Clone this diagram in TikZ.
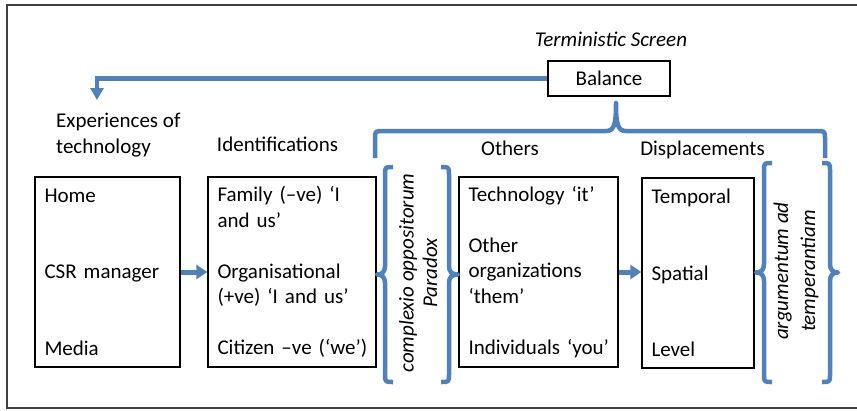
\documentclass[tikz,border=0pt]{standalone}
\usepackage{fontspec}
\setmainfont{Carlito}
\usetikzlibrary{arrows.meta}
\definecolor{schemeblue}{RGB}{79,129,189}

\begin{document}
\begin{tikzpicture}[x=1pt, y=-1pt,
    font=\fontsize{21}{25.5}\selectfont,
    box/.style={draw, line width=1.4pt, minimum height=190pt, inner xsep=9.5pt, align=left},
    label/.style={inner sep=0pt},
    slanted/.style={inner sep=0pt, font=\fontsize{21}{27}\selectfont\itshape},
    blueline/.style={draw=schemeblue, line width=4.5pt, line join=round},
    bluearrow/.style={draw=schemeblue, line width=5pt, -{Triangle[length=11pt,width=14pt]}}]

    % page and outer frame (open on the right)
    \useasboundingbox (0,0) rectangle (857,410);
    \draw[line width=1.5pt, black!75] (857,5) -- (7,5) -- (7,408) -- (857,408);

    % Balance box with its heading
    \node[slanted, anchor=base] (screen) at (611,46) {Terministic Screen};
    \node[draw, line width=1.4pt, minimum width=122pt, minimum height=35pt, inner sep=0pt] (balance) at (609,78.5) {Balance};

    % Column headings
    \node[label, align=left, anchor=west] (experlbl) at (56,135) {Experiences of\\technology};
    \node[label, anchor=base] (identlbl) at (277.5,151) {Identifications};
    \node[label, anchor=base] (otherslbl) at (510,155) {Others};
    \node[label, anchor=base] (displlbl) at (702.5,155) {Displacements};

    % The four boxes
    \node[box, text width=126pt] (places) at (107.5,272) {Home\\[51pt]CSR manager\\[51pt]Media};
    \node[box, text width=149pt] (ident) at (292,272) {Family (–ve) ‘I\\and us’\\[25.5pt]Organisational\\\mbox{(+ve) ‘I and us’}\\[25.5pt]\mbox{Citizen –ve (‘we’)}};
    \node[box, text width=140pt] (others) at (538.5,272) {Technology ‘it’\\[25.5pt]Other\\organizations\\‘them’\\[25.5pt]\mbox{Individuals ‘you’}};
    \node[box, text width=93pt] (displ) at (698,273) {Temporal\\[51pt]Spatial\\[51pt]Level};

    % Rotated labels between the braces
    \node[slanted, rotate=90] (complexio) at (408,273) {complexio oppositorum};
    \node[slanted, rotate=90] (paradox) at (430,273) {Paradox};
    \node[slanted, rotate=90, align=center] (argument) at (796,271) {argumentum ad\\temperantiam};

    % Arrows
    \coordinate (exptip) at (97,100);
    \draw[bluearrow, line width=4.5pt, -{Triangle[length=12pt,width=13pt]}] (balance.west) -| (exptip);
    \draw[bluearrow] (places.east) -- (ident.west);
    \draw[bluearrow] (others.east) -- (others.east -| displ.west);

    % Top brace under Balance
    \draw[blueline] (375,158) -- (375,139) .. controls (375,131) .. (383,131) -- (606,131)
        .. controls (614,131) and (616,125) .. (616,103)
        .. controls (616,125) and (618,131) .. (626,131) -- (817,131)
        .. controls (825,131) .. (825,139) -- (825,158);

    % Braces round complexio oppositorum / Paradox
    \draw[blueline] (393,167) .. controls (385,167) .. (385,175) -- (385,266)
        .. controls (385,272) and (382,274.5) .. (377,274.5)
        .. controls (382,274.5) and (385,277) .. (385,283) -- (385,374)
        .. controls (385,382) .. (393,382);
    \draw[blueline] (441,167) .. controls (449,167) .. (449,175) -- (449,266)
        .. controls (449,272) and (452,274.5) .. (458,274.5)
        .. controls (452,274.5) and (449,277) .. (449,283) -- (449,374)
        .. controls (449,382) .. (441,382);

    % Braces round argumentum ad temperantiam
    \draw[blueline] (772,163) .. controls (764,163) .. (764,171) -- (764,264)
        .. controls (764,270) and (761,272.5) .. (756,272.5)
        .. controls (761,272.5) and (764,275) .. (764,281) -- (764,374)
        .. controls (764,382) .. (772,382);
    \draw[blueline] (822,163) .. controls (830,163) .. (830,171) -- (830,264)
        .. controls (830,270) and (833,272.5) .. (838,272.5)
        .. controls (833,272.5) and (830,275) .. (830,281) -- (830,374)
        .. controls (830,382) .. (822,382);
\end{tikzpicture}
\end{document}
